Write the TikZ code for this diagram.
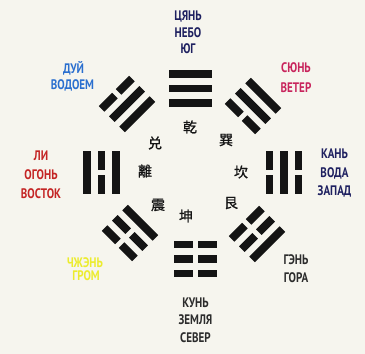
\documentclass[tikz,border=0pt]{standalone}
\usepackage{fontspec}
\setmainfont{PT Sans}[FakeStretch=0.8]
\newfontfamily\cjk{Noto Sans CJK SC}[FakeBold=1.2]

\definecolor{paper}{HTML}{F6F5EE}
\definecolor{barink}{HTML}{141414}
\definecolor{navyink}{HTML}{1E2060}
\definecolor{blueink}{HTML}{2A6FCF}
\definecolor{roseink}{HTML}{C8245C}
\definecolor{redink}{HTML}{C42424}
\definecolor{greyink}{HTML}{2C2C2C}
\definecolor{yellowink}{HTML}{ECEC2E}

\tikzset{
  bar/.style={fill=barink},
  lbl/.style={font=\bfseries\fontsize{13.8}{16}\selectfont, inner sep=0pt, anchor=base},
  hz/.style={font=\cjk\fontsize{14}{14}\selectfont, inner sep=0pt, text=barink}
}

% one line of a trigram: #1 = offset across the trigram, #2 = 1 solid / 0 broken
\newcommand\yaoline[2]{%
  \ifnum#2=1
    \fill[bar] (-21.5,#1-3.9) rectangle (21.5,#1+3.9);
  \else
    \fill[bar] (-21.5,#1-3.9) rectangle (-2.5,#1+3.9);
    \fill[bar] (2.5,#1-3.9) rectangle (21.5,#1+3.9);
  \fi}

% trigram: centre x, centre y, rotation, inner, middle, outer line
\newcommand\trigram[6]{%
  \begin{scope}[shift={(#1,#2)},rotate=#3]
    \yaoline{14.5}{#4}\yaoline{0}{#5}\yaoline{-14.5}{#6}
  \end{scope}}

\begin{document}
\begin{tikzpicture}[x=1pt,y=-1pt]
\fill[paper] (0,0) rectangle (365,354);
\useasboundingbox (0,0) rectangle (365,354);

% the eight trigrams
\trigram{190.5}{88.5}{0}{1}{1}{1}     % qian
\trigram{127}{104}{45}{1}{1}{0}       % dui
\trigram{101.5}{172.5}{90}{1}{0}{1}   % li
\trigram{130}{233}{135}{1}{0}{0}      % zhen
\trigram{195}{259}{180}{0}{0}{0}      % kun
\trigram{257}{234}{-135}{0}{0}{1}     % gen
\trigram{284}{172.5}{-90}{0}{1}{0}    % kan
\trigram{253}{106}{-45}{0}{1}{1}      % xun

% characters in the middle
\node[hz] (hqian) at (190,127) {乾};
\node[hz] (hxun)  at (226,140) {巽};
\node[hz] (hdui)  at (155,143) {兑};
\node[hz] (hli)   at (145,171) {離};
\node[hz] (hkan)  at (241,172) {坎};
\node[hz] (hgen)  at (231,203) {艮};
\node[hz] (hzhen) at (158,205) {震};
\node[hz] (hkun)  at (186,216) {坤};

% names
\node[lbl, text=navyink] (t1) at (188,20) {ЦЯНЬ};
\node[lbl, text=navyink] (t2) at (188,37) {НЕБО};
\node[lbl, text=navyink] (t3) at (188,53) {ЮГ};

\node[lbl, text=blueink] (ul1) at (73.5,73) {ДУЙ};
\node[lbl, text=blueink] (ul2) at (72.5,89) {ВОДОЕМ};

\node[lbl, text=roseink] (ur1) at (296,72) {СЮНЬ};
\node[lbl, text=roseink] (ur2) at (296,92) {ВЕТЕР};

\node[lbl, text=redink] (l1) at (41,160) {ЛИ};
\node[lbl, text=redink] (l2) at (41,179) {ОГОНЬ};
\node[lbl, text=redink] (l3) at (41,198) {ВОСТОК};

\node[lbl, text=navyink] (r1) at (334.5,158) {КАНЬ};
\node[lbl, text=navyink] (r2) at (334.5,177) {ВОДА};
\node[lbl, text=navyink] (r3) at (334.5,195) {ЗАПАД};

\node[lbl, text=greyink] (lr1) at (296,264) {ГЭНЬ};
\node[lbl, text=greyink] (lr2) at (296,282) {ГОРА};

\node[lbl, text=greyink] (b1) at (195.5,307) {КУНЬ};
\node[lbl, text=greyink] (b2) at (195.5,324) {ЗЕМЛЯ};
\node[lbl, text=greyink] (b3) at (195.5,342) {СЕВЕР};

\node[lbl, text=yellowink] (ll1) at (85,267) {ЧЖЭНЬ};
\node[lbl, text=yellowink] (ll2) at (86,280) {ГРОМ};
\end{tikzpicture}
\end{document}
